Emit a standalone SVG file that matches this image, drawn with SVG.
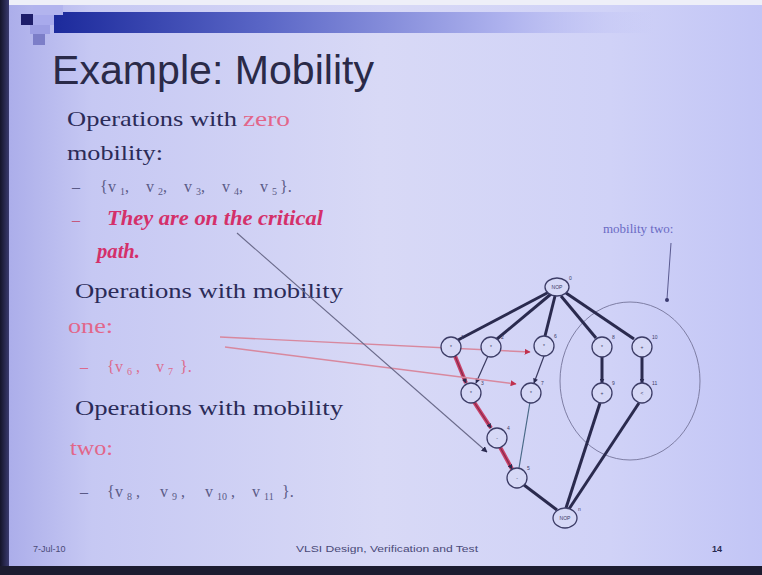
<svg xmlns="http://www.w3.org/2000/svg" width="762" height="575" viewBox="0 0 762 575">
  <defs>
    <linearGradient id="bg" x1="0" y1="0" x2="1" y2="0">
      <stop offset="0" stop-color="#a9abe9"/>
      <stop offset="0.12" stop-color="#c6c8f3"/>
      <stop offset="0.5" stop-color="#d8d9f6"/>
      <stop offset="0.8" stop-color="#d0d2f7"/>
      <stop offset="1" stop-color="#c2c5f6"/>
    </linearGradient>
    <linearGradient id="bar" x1="0" y1="0" x2="1" y2="0">
      <stop offset="0" stop-color="#1c2a9c"/>
      <stop offset="0.35" stop-color="#5a66c6"/>
      <stop offset="0.75" stop-color="#aeb2ee"/>
      <stop offset="1" stop-color="#bfc2f6" stop-opacity="0"/>
    </linearGradient>
    <linearGradient id="leftEdge" x1="0" y1="0" x2="1" y2="0">
      <stop offset="0" stop-color="#14142a"/>
      <stop offset="1" stop-color="#3a3a70"/>
    </linearGradient>
    <marker id="arrDark" viewBox="0 0 10 10" refX="9" refY="5" markerWidth="5" markerHeight="5" orient="auto" markerUnits="userSpaceOnUse">
      <path d="M0,0 L10,5 L0,10 z" fill="#2a2a50"/>
    </marker>
    <marker id="arrRed" viewBox="0 0 10 10" refX="9" refY="5" markerWidth="6" markerHeight="6" orient="auto" markerUnits="userSpaceOnUse">
      <path d="M0,0 L10,5 L0,10 z" fill="#c0304e"/>
    </marker>
    <marker id="arrGray" viewBox="0 0 10 10" refX="9" refY="5" markerWidth="6" markerHeight="6" orient="auto" markerUnits="userSpaceOnUse">
      <path d="M0,0 L10,5 L0,10 z" fill="#2a2a50"/>
    </marker>
  </defs>
  <style>
    .body { font-family: "Liberation Serif", "Times New Roman", serif; font-size: 22px; fill: #2b2b58; }
    .pink { fill: #e2668a; }
    .set { font-family: "Liberation Serif", serif; font-size: 16px; fill: #5a5a86; }
    .setpink { fill: #dc6a8c; }
    .sub { font-size: 10px; }
    .crit { font-family: "Liberation Serif", serif; font-size: 20px; font-weight: bold; font-style: italic; fill: #d4306a; }
    .foot { font-family: "Liberation Sans", Arial, sans-serif; font-size: 9px; fill: #4a4a78; }
    .node { fill: #d6d8f6; stroke: #3c3c66; stroke-width: 1.3; }
    .nlab { font-family: "Liberation Sans", sans-serif; font-size: 5px; fill: #3c3c66; text-anchor: middle; }
    .nsup { font-family: "Liberation Sans", sans-serif; font-size: 5px; fill: #3c3c66; }
    .thick { stroke: #2a2a4e; stroke-width: 3; fill: none; }
    .thin { stroke: #3a3a60; stroke-width: 1.2; fill: none; }
    .crit-edge { stroke: #c8426a; stroke-width: 4; fill: none; }
    .crit-core { stroke: #8a2a4a; stroke-width: 1.2; fill: none; }
  </style>

  <!-- slide background and frame -->
  <rect width="762" height="575" fill="url(#bg)"/>
  <rect width="762" height="5" fill="#eeeff8"/>
  <rect x="0" y="0" width="9" height="575" fill="url(#leftEdge)"/>
  <rect x="0" y="566" width="762" height="9" fill="#1c1c30"/>

  <!-- title bar and corner squares -->
  <rect x="54" y="12" width="600" height="21" fill="url(#bar)"/>
  <rect x="33" y="5" width="30" height="10" fill="#b2b4ee"/>
  <rect x="21" y="14" width="12" height="11" fill="#1e1e6a"/>
  <rect x="33" y="15" width="21" height="10" fill="#a8aaec"/>
  <rect x="30" y="25" width="20" height="9" fill="#9c9ee4"/>
  <rect x="33" y="34" width="12" height="11" fill="#7c7ec8"/>

  <text x="52" y="84" font-family="Liberation Sans, Arial, sans-serif" font-size="40" fill="#2a2a48" textLength="322" lengthAdjust="spacingAndGlyphs">Example: Mobility</text>

  <!-- bullet text -->
  <text class="body" x="67" y="126" textLength="170" lengthAdjust="spacingAndGlyphs">Operations with</text>
  <text class="body pink" x="243" y="126" textLength="47" lengthAdjust="spacingAndGlyphs">zero</text>
  <text class="body" x="67" y="160" textLength="96" lengthAdjust="spacingAndGlyphs">mobility:</text>

  <text class="set" x="72" y="192">–</text>
  <text class="set" y="192"><tspan x="100">{</tspan><tspan x="108">v</tspan><tspan class="sub" x="120" dy="3">1</tspan><tspan x="125" dy="-3">,</tspan><tspan x="146">v</tspan><tspan class="sub" x="158" dy="3">2</tspan><tspan x="163" dy="-3">,</tspan><tspan x="184">v</tspan><tspan class="sub" x="196" dy="3">3</tspan><tspan x="201" dy="-3">,</tspan><tspan x="222">v</tspan><tspan class="sub" x="234" dy="3">4</tspan><tspan x="239" dy="-3">,</tspan><tspan x="260">v</tspan><tspan class="sub" x="272" dy="3">5</tspan><tspan x="280" dy="-3">}.</tspan></text>

  <text class="set" x="72" y="225" style="fill:#c45a7e">–</text>
  <text class="crit" x="107" y="225" textLength="216" lengthAdjust="spacingAndGlyphs">They are on the critical</text>
  <text class="crit" x="97" y="258" textLength="43" lengthAdjust="spacingAndGlyphs">path.</text>

  <text class="body" x="75" y="298" textLength="268" lengthAdjust="spacingAndGlyphs">Operations with mobility</text>
  <text class="body pink" x="68" y="333" textLength="45" lengthAdjust="spacingAndGlyphs">one:</text>
  <text class="set setpink" x="80" y="372">–</text>
  <text class="set setpink" y="372"><tspan x="107">{</tspan><tspan x="115">v</tspan><tspan class="sub" x="127" dy="3">6</tspan><tspan x="136" dy="-3">,</tspan><tspan x="156">v</tspan><tspan class="sub" x="168" dy="3">7</tspan><tspan x="180" dy="-3">}.</tspan></text>

  <text class="body" x="75" y="415" textLength="268" lengthAdjust="spacingAndGlyphs">Operations with mobility</text>
  <text class="body pink" x="70" y="455" textLength="43" lengthAdjust="spacingAndGlyphs">two:</text>
  <text class="set" x="80" y="497">–</text>
  <text class="set" y="497"><tspan x="107">{</tspan><tspan x="115">v</tspan><tspan class="sub" x="127" dy="3">8</tspan><tspan x="136" dy="-3">,</tspan><tspan x="160">v</tspan><tspan class="sub" x="172" dy="3">9</tspan><tspan x="181" dy="-3">,</tspan><tspan x="205">v</tspan><tspan class="sub" x="217" dy="3">10</tspan><tspan x="231" dy="-3">,</tspan><tspan x="252">v</tspan><tspan class="sub" x="264" dy="3">11</tspan><tspan x="282" dy="-3">}.</tspan></text>

  <!-- footer -->
  <text class="foot" x="33" y="552">7-Jul-10</text>
  <text class="foot" x="296" y="552" textLength="182" lengthAdjust="spacingAndGlyphs">VLSI Design, Verification and Test</text>
  <text class="foot" x="712" y="552" font-weight="bold" style="fill:#2a2a50">14</text>

  <!-- mobility-two annotation -->
  <g id="mobility-two">
    <ellipse cx="630" cy="381" rx="70" ry="79" fill="none" stroke="#7e7ea4" stroke-width="1"/>
    <text x="603" y="233" font-family="Liberation Serif, serif" font-size="13" fill="#6a6ac4">mobility two:</text>
    <line x1="671" y1="243" x2="667" y2="299" stroke="#5a5a90" stroke-width="1"/>
    <circle cx="667" cy="300" r="2" fill="#3a3a70"/>
  </g>

  <!-- connectors -->
  <g id="connectors">
    <!-- source fan-out -->
    <line class="thick" x1="549" y1="292" x2="458" y2="340"/>
    <line class="thick" x1="551" y1="294" x2="497" y2="339"/>
    <line class="thick" x1="555" y1="296" x2="545" y2="336"/>
    <line class="thick" x1="561" y1="296" x2="596" y2="338"/>
    <line class="thick" x1="566" y1="293" x2="634" y2="339"/>
    <!-- critical path v1 -> v3 -> v4 -> v5 -->
    <line class="crit-edge" x1="455" y1="356" x2="466" y2="383"/>
    <line class="crit-edge" x1="474" y1="402" x2="491" y2="428"/>
    <line class="crit-edge" x1="500" y1="447" x2="512" y2="469"/>
    <line class="crit-core" x1="455" y1="356" x2="466" y2="383" marker-end="url(#arrDark)"/>
    <line class="crit-core" x1="474" y1="402" x2="491" y2="428" marker-end="url(#arrDark)"/>
    <line class="crit-core" x1="500" y1="447" x2="512" y2="469" marker-end="url(#arrDark)"/>
    <!-- other dependencies -->
    <line class="thin" x1="488" y1="356" x2="476" y2="383" marker-end="url(#arrDark)"/>
    <line class="thin" x1="544" y1="356" x2="534" y2="383" marker-end="url(#arrDark)"/>
    <line class="thin" x1="530" y1="402" x2="519" y2="468" style="stroke:#4a6a88"/>
    <line class="thick" x1="602" y1="357" x2="602" y2="383" marker-end="url(#arrDark)"/>
    <line class="thick" x1="642" y1="357" x2="642" y2="383" marker-end="url(#arrDark)"/>
    <!-- into the sink -->
    <line class="thick" x1="524" y1="485" x2="557" y2="510"/>
    <line class="thick" x1="600" y1="403" x2="566" y2="508"/>
    <line class="thick" x1="639" y1="403" x2="569" y2="509"/>
    <!-- pointers from the bullet text -->
    <line x1="220" y1="337" x2="530" y2="352" stroke="#d8889e" stroke-width="1.4" marker-end="url(#arrRed)"/>
    <line x1="225" y1="347" x2="516" y2="384" stroke="#d8889e" stroke-width="1.4" marker-end="url(#arrRed)"/>
    <line x1="237" y1="233" x2="487" y2="452" stroke="#6a6a8a" stroke-width="1.1" marker-end="url(#arrGray)"/>
  </g>

  <!-- nodes -->
  <g id="v0"><ellipse class="node" cx="557" cy="287" rx="12" ry="9"/><text class="nlab" x="557" y="289">NOP</text><text class="nsup" x="569" y="280">0</text></g>
  <g id="v1"><circle class="node" cx="451" cy="347" r="10"/><text class="nlab" x="451" y="349">*</text><text class="nsup" x="461" y="339">1</text></g>
  <g id="v2"><circle class="node" cx="491" cy="347" r="10"/><text class="nlab" x="491" y="349">*</text><text class="nsup" x="501" y="339">2</text></g>
  <g id="v6"><circle class="node" cx="544" cy="346" r="10"/><text class="nlab" x="544" y="348">*</text><text class="nsup" x="554" y="338">6</text></g>
  <g id="v8"><circle class="node" cx="602" cy="347" r="10"/><text class="nlab" x="602" y="349">*</text><text class="nsup" x="612" y="339">8</text></g>
  <g id="v10"><circle class="node" cx="642" cy="347" r="10"/><text class="nlab" x="642" y="349">+</text><text class="nsup" x="652" y="339">10</text></g>
  <g id="v3"><circle class="node" cx="471" cy="393" r="10"/><text class="nlab" x="471" y="395">*</text><text class="nsup" x="481" y="385">3</text></g>
  <g id="v7"><circle class="node" cx="531" cy="393" r="10"/><text class="nlab" x="531" y="395">*</text><text class="nsup" x="541" y="385">7</text></g>
  <g id="v9"><circle class="node" cx="602" cy="393" r="10"/><text class="nlab" x="602" y="395">+</text><text class="nsup" x="612" y="385">9</text></g>
  <g id="v11"><circle class="node" cx="642" cy="393" r="10"/><text class="nlab" x="642" y="395">&lt;</text><text class="nsup" x="652" y="385">11</text></g>
  <g id="v4"><circle class="node" cx="497" cy="438" r="10"/><text class="nlab" x="497" y="440">-</text><text class="nsup" x="507" y="430">4</text></g>
  <g id="v5"><circle class="node" cx="517" cy="478" r="10"/><text class="nlab" x="517" y="480">-</text><text class="nsup" x="527" y="470">5</text></g>
  <g id="vn"><ellipse class="node" cx="565" cy="518" rx="12" ry="10"/><text class="nlab" x="565" y="520">NOP</text><text class="nsup" x="578" y="511">n</text></g>
</svg>
